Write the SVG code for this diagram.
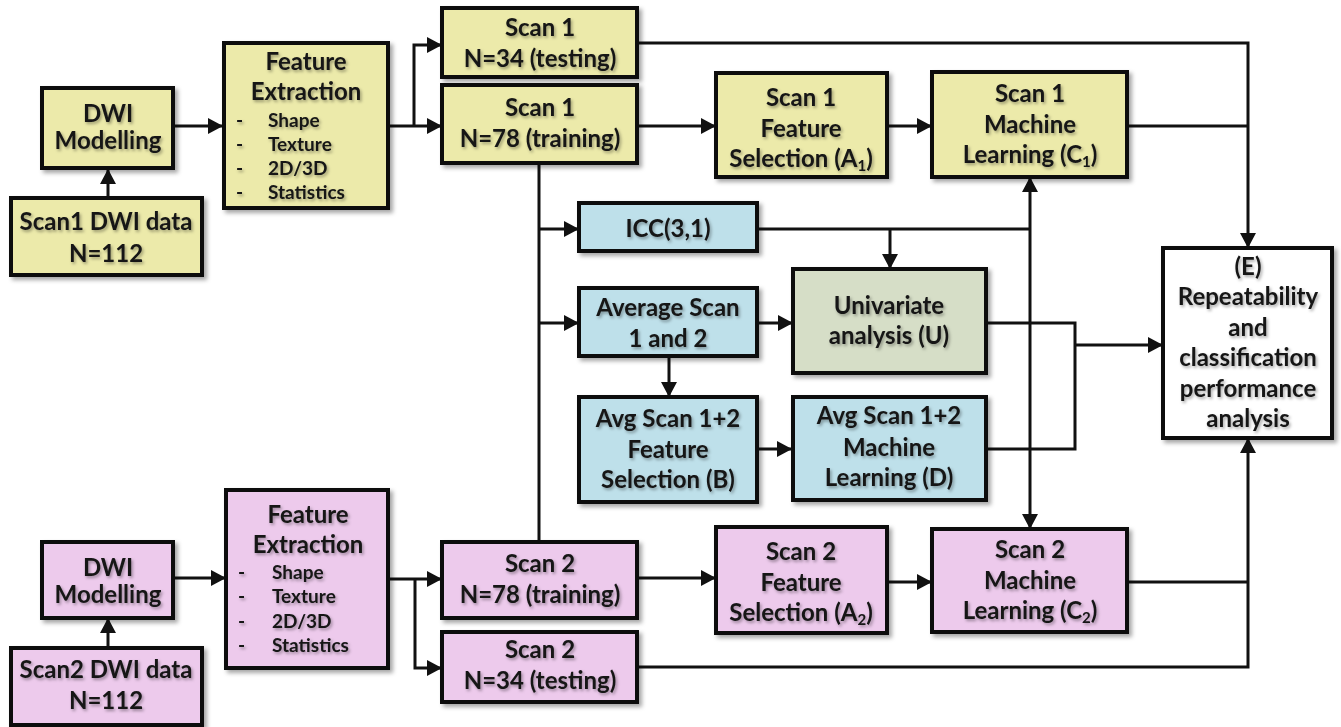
<svg xmlns="http://www.w3.org/2000/svg" width="1341" height="727" viewBox="0 0 1341 727">
<defs>
<style>
.box{stroke:#111;stroke-width:4}
.y{fill:#ECEAAA}
.b{fill:#BEE0EA}
.g{fill:#D6DEC7}
.p{fill:#EDCAEC}
.w{fill:#fff}
text{font-family:Lato,"Open Sans","Liberation Sans",sans-serif;font-weight:bold;fill:#151515;text-anchor:middle;font-size:24px}
.s{font-size:19px;text-anchor:start}
.c{fill:none;stroke:#111;stroke-width:3}
</style>
<filter id="sh" x="-10%" y="-10%" width="130%" height="130%"><feDropShadow dx="3" dy="3" stdDeviation="2" flood-color="#000" flood-opacity="0.35"/></filter>
<filter id="ts" x="-10%" y="-20%" width="120%" height="150%"><feDropShadow dx="1.5" dy="2" stdDeviation="1.5" flood-color="#000" flood-opacity="0.35"/></filter>
<marker id="a" viewBox="0 0 15 16" refX="14" refY="8" markerWidth="15" markerHeight="16" markerUnits="userSpaceOnUse" orient="auto"><path d="M0,0 L15,8 L0,16 Z" fill="#111"/></marker>
</defs>

<g id="connectors">
<path class="c" d="M108,198 V170" marker-end="url(#a)"/>
<path class="c" d="M173,126 H222" marker-end="url(#a)"/>
<path class="c" d="M388,126 H441" marker-end="url(#a)"/>
<path class="c" d="M414,126 V45 H441" marker-end="url(#a)"/>
<path class="c" d="M637,43 H1248 V247" marker-end="url(#a)"/>
<path class="c" d="M637,126 H715" marker-end="url(#a)"/>
<path class="c" d="M887,126 H931" marker-end="url(#a)"/>
<path class="c" d="M1127,126 H1248"/>
<path class="c" d="M539,163 V542"/>
<path class="c" d="M539,229 H578" marker-end="url(#a)"/>
<path class="c" d="M539,323 H578" marker-end="url(#a)"/>
<path class="c" d="M757,229 H1030"/>
<path class="c" d="M890,229 V268" marker-end="url(#a)"/>
<path class="c" d="M1030,300 V178" marker-end="url(#a)"/>
<path class="c" d="M1030,300 V528" marker-end="url(#a)"/>
<path class="c" d="M757,323 H792" marker-end="url(#a)"/>
<path class="c" d="M669,356 V396" marker-end="url(#a)"/>
<path class="c" d="M757,449 H791" marker-end="url(#a)"/>
<path class="c" d="M986,323 H1075 V449 H986"/>
<path class="c" d="M1075,345 H1162" marker-end="url(#a)"/>
<path class="c" d="M108,648 V619" marker-end="url(#a)"/>
<path class="c" d="M173,578 H225" marker-end="url(#a)"/>
<path class="c" d="M388,579 H441" marker-end="url(#a)"/>
<path class="c" d="M415,579 V668 H441" marker-end="url(#a)"/>
<path class="c" d="M637,578 H715" marker-end="url(#a)"/>
<path class="c" d="M887,582 H931" marker-end="url(#a)"/>
<path class="c" d="M1127,582 H1248"/>
<path class="c" d="M637,667 H1248 V439" marker-end="url(#a)"/>
</g>

<g id="scan1-data"><rect class="box y" filter="url(#sh)" x="11" y="198" width="191" height="77"/>
<g filter="url(#ts)"><text x="106" y="230">Scan1 DWI data</text><text x="106" y="262">N=112</text></g></g>

<g id="dwi1"><rect class="box y" filter="url(#sh)" x="42" y="88" width="131" height="80"/>
<g filter="url(#ts)"><text x="108" y="122">DWI</text><text x="108" y="149">Modelling</text></g></g>

<g id="fe1"><rect class="box y" filter="url(#sh)" x="224" y="43" width="164" height="165"/>
<g filter="url(#ts)"><text x="306" y="70">Feature</text><text x="306" y="100">Extraction</text>
<text class="s" x="236" y="127">-</text><text class="s" x="268" y="127">Shape</text>
<text class="s" x="236" y="151">-</text><text class="s" x="268" y="151">Texture</text>
<text class="s" x="236" y="175">-</text><text class="s" x="268" y="175">2D/3D</text>
<text class="s" x="236" y="199">-</text><text class="s" x="268" y="199">Statistics</text></g></g>

<g id="s1-test"><rect class="box y" filter="url(#sh)" x="442" y="8" width="195" height="69"/>
<g filter="url(#ts)"><text x="540" y="36">Scan 1</text><text x="540" y="67">N=34 (testing)</text></g></g>

<g id="s1-train"><rect class="box y" filter="url(#sh)" x="442" y="85" width="195" height="78"/>
<g filter="url(#ts)"><text x="540" y="116">Scan 1</text><text x="540" y="147">N=78 (training)</text></g></g>

<g id="s1-fs"><rect class="box y" filter="url(#sh)" x="716" y="73" width="171" height="104"/>
<g filter="url(#ts)"><text x="801" y="106">Scan 1</text><text x="801" y="137">Feature</text><text x="801" y="167">Selection (A<tspan font-size="15" dy="4">1</tspan><tspan dy="-4">)</tspan></text></g></g>

<g id="s1-ml"><rect class="box y" filter="url(#sh)" x="932" y="72" width="195" height="105"/>
<g filter="url(#ts)"><text x="1030" y="102">Scan 1</text><text x="1030" y="133">Machine</text><text x="1030" y="163">Learning (C<tspan font-size="15" dy="4">1</tspan><tspan dy="-4">)</tspan></text></g></g>

<g id="icc"><rect class="box b" filter="url(#sh)" x="579" y="203" width="178" height="48"/>
<g filter="url(#ts)"><text x="668" y="237">ICC(3,1)</text></g></g>

<g id="avg"><rect class="box b" filter="url(#sh)" x="579" y="288" width="178" height="68"/>
<g filter="url(#ts)"><text x="668" y="316">Average Scan</text><text x="668" y="347">1 and 2</text></g></g>

<g id="uni"><rect class="box g" filter="url(#sh)" x="793" y="269" width="193" height="104"/>
<g filter="url(#ts)"><text x="889" y="314">Univariate</text><text x="889" y="344">analysis (U)</text></g></g>

<g id="avg-fs"><rect class="box b" filter="url(#sh)" x="579" y="397" width="178" height="105"/>
<g filter="url(#ts)"><text x="668" y="427">Avg Scan 1+2</text><text x="668" y="458">Feature</text><text x="668" y="488">Selection (B)</text></g></g>

<g id="avg-ml"><rect class="box b" filter="url(#sh)" x="793" y="397" width="193" height="103"/>
<g filter="url(#ts)"><text x="889" y="424">Avg Scan 1+2</text><text x="889" y="456">Machine</text><text x="889" y="486">Learning (D)</text></g></g>

<g id="e"><rect class="box w" filter="url(#sh)" x="1163" y="248" width="169" height="190"/>
<g filter="url(#ts)"><text x="1248" y="275">(E)</text><text x="1248" y="305">Repeatability</text><text x="1248" y="336">and</text><text x="1248" y="366">classification</text><text x="1248" y="397">performance</text><text x="1248" y="427">analysis</text></g></g>

<g id="scan2-data"><rect class="box p" filter="url(#sh)" x="11" y="648" width="191" height="77"/>
<g filter="url(#ts)"><text x="106" y="678">Scan2 DWI data</text><text x="106" y="709">N=112</text></g></g>

<g id="dwi2"><rect class="box p" filter="url(#sh)" x="42" y="542" width="131" height="76"/>
<g filter="url(#ts)"><text x="108" y="576">DWI</text><text x="108" y="603">Modelling</text></g></g>

<g id="fe2"><rect class="box p" filter="url(#sh)" x="226" y="490" width="162" height="178"/>
<g filter="url(#ts)"><text x="308" y="523">Feature</text><text x="308" y="553">Extraction</text>
<text class="s" x="238" y="579">-</text><text class="s" x="272" y="579">Shape</text>
<text class="s" x="238" y="603">-</text><text class="s" x="272" y="603">Texture</text>
<text class="s" x="238" y="628">-</text><text class="s" x="272" y="628">2D/3D</text>
<text class="s" x="238" y="652">-</text><text class="s" x="272" y="652">Statistics</text></g></g>

<g id="s2-train"><rect class="box p" filter="url(#sh)" x="442" y="542" width="195" height="76"/>
<g filter="url(#ts)"><text x="540" y="572">Scan 2</text><text x="540" y="603">N=78 (training)</text></g></g>

<g id="s2-test"><rect class="box p" filter="url(#sh)" x="442" y="632" width="195" height="70"/>
<g filter="url(#ts)"><text x="540" y="658">Scan 2</text><text x="540" y="689">N=34 (testing)</text></g></g>

<g id="s2-fs"><rect class="box p" filter="url(#sh)" x="716" y="527" width="171" height="106"/>
<g filter="url(#ts)"><text x="801" y="560">Scan 2</text><text x="801" y="591">Feature</text><text x="801" y="621">Selection (A<tspan font-size="15" dy="4">2</tspan><tspan dy="-4">)</tspan></text></g></g>

<g id="s2-ml"><rect class="box p" filter="url(#sh)" x="932" y="529" width="195" height="103"/>
<g filter="url(#ts)"><text x="1030" y="558">Scan 2</text><text x="1030" y="589">Machine</text><text x="1030" y="619">Learning (C<tspan font-size="15" dy="4">2</tspan><tspan dy="-4">)</tspan></text></g></g>
</svg>
